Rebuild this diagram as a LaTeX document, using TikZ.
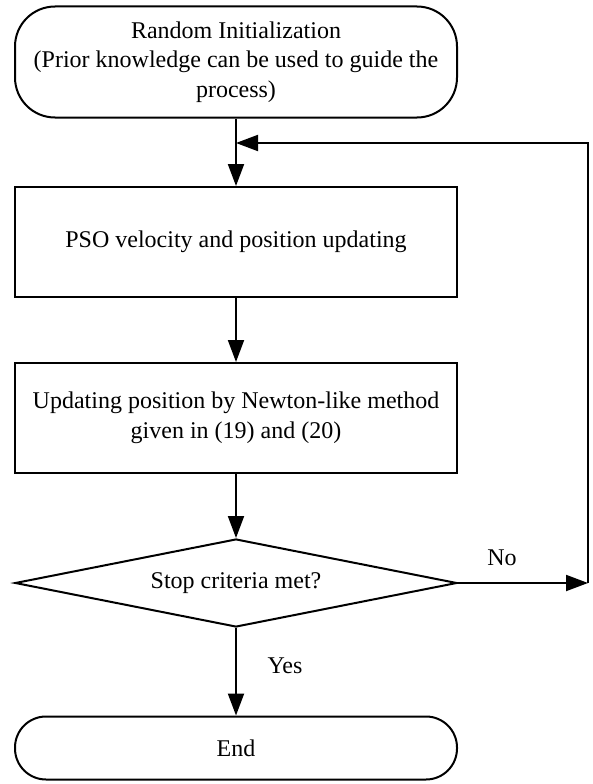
\documentclass[tikz,border=0pt]{standalone}
\usepackage{fontspec}
\setmainfont{Liberation Serif}
\usetikzlibrary{shapes.geometric,arrows.meta}

\tikzset{
  flowline/.style={line width=2pt, -{Triangle[length=22pt,width=16pt]}},
  termbox/.style={draw, line width=2pt, rounded corners=40pt, minimum width=442pt, align=center, inner sep=0pt},
  procbox/.style={draw, line width=2pt, minimum width=442pt, minimum height=110pt, align=center},
  testbox/.style={draw, diamond, line width=2pt, aspect=5, minimum width=442pt, minimum height=88pt, inner sep=0pt}
}

\begin{document}
\begin{tikzpicture}[x=1pt, y=-1pt, font=\fontsize{24}{29.5}\selectfont]
\useasboundingbox (0,0) rectangle (592,784);
\node[termbox, minimum height=111pt] (init) at (236,62)
  {Random Initialization\\(Prior knowledge can be used to guide the\\process)};
\node[procbox] (pso) at (236,242) {PSO velocity and position updating};
\node[procbox] (newton) at (236,418) {Updating position by Newton-like method\\given in (19) and (20)};
\node[testbox] (stop) at (236,583) {Stop criteria met?};
\node[termbox, rounded corners=31pt, minimum height=63pt] (end) at (236,748) {End};
\coordinate (join) at (236,143);
\coordinate (far) at (588,583);
\coordinate (top) at (588,143);
\node (no) at (502,558) {No};
\node (yes) at (285,666) {Yes};
\draw[flowline] (init) -- (pso);
\draw[flowline] (pso) -- (newton);
\draw[flowline] (newton) -- (stop);
\draw[flowline] (stop) -- (end);
\draw[flowline] (stop.east) -- (far);
\draw[flowline] (far) -- (top) -- (join);
\end{tikzpicture}
\end{document}
